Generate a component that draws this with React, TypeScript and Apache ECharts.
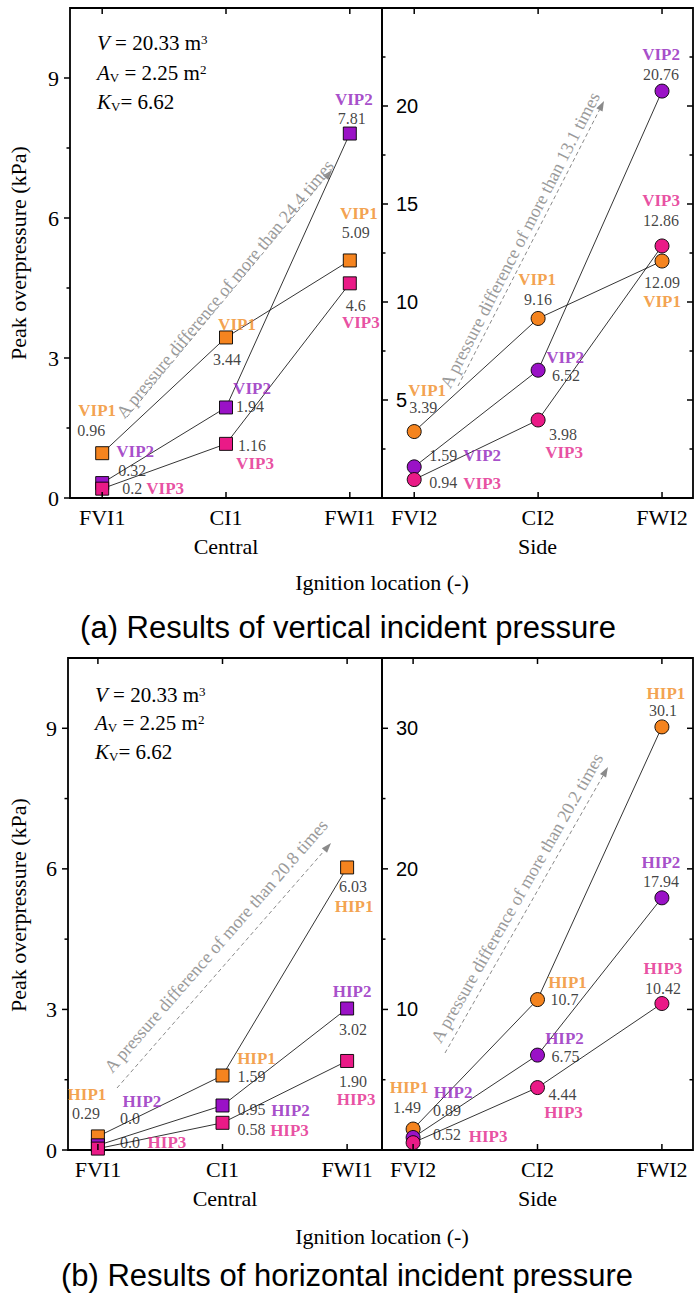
import React, { useEffect, useRef } from "react";
import * as echarts from "echarts";

const SERIF = "Liberation Serif";
const SANS = "Liberation Sans";

// ---------- data ----------
const centralCats = ["FVI1", "CI1", "FWI1"];
const sideCats = ["FVI2", "CI2", "FWI2"];
const vipNames = ["VIP1", "VIP2", "VIP3"];
const hipNames = ["HIP1", "HIP2", "HIP3"];

const vip1Central = [0.96, 3.44, 5.09];
const vip2Central = [0.32, 1.94, 7.81];
const vip3Central = [0.2, 1.16, 4.6];
const vipCentralText = [["0.96", "3.44", "5.09"], ["0.32", "1.94", "7.81"], ["0.2", "1.16", "4.6"]];

const vip1Side = [3.39, 9.16, 12.09];
const vip2Side = [1.59, 6.52, 20.76];
const vip3Side = [0.94, 3.98, 12.86];
const vipSideText = [["3.39", "9.16", "12.09"], ["1.59", "6.52", "20.76"], ["0.94", "3.98", "12.86"]];

const hip1Central = [0.29, 1.59, 6.03];
const hip2Central = [0.1, 0.95, 3.02];
const hip3Central = [0.03, 0.58, 1.9];
const hipCentralText = [["0.29", "1.59", "6.03"], ["0.0", "0.95", "3.02"], ["0.0", "0.58", "1.90"]];

const hip1Side = [1.49, 10.7, 30.1];
const hip2Side = [0.89, 6.75, 17.94];
const hip3Side = [0.52, 4.44, 10.42];
const hipSideText = [["1.49", "10.7", "30.1"], ["0.89", "6.75", "17.94"], ["0.52", "4.44", "10.42"]];

const catTicks = [0, 1, 2];
const centralMajor = [0, 3, 6, 9];
const centralMinor = [1.5, 4.5, 7.5];
const vipSideMajor = [5, 10, 15, 20];
const vipSideMinor = [2.5, 7.5, 12.5, 17.5, 22.5];
const hipSideMajor = [10, 20, 30];
const hipSideMinor = [5, 15, 25];

// ---------- styles / layout ----------
const fills = ["#F5841F", "#9A12C6", "#EA1A87"];
const textColors = ["#F08A22", "#9020BC", "#E2228A"];

// label offsets: [series][category] = [[nameDx, nameDy], [valueDx, valueDy]]
const offTL = [
  [[[-5, -43], [-11, -23]], [[11, -13], [1, 22]], [[9, -47], [6, -28]]],
  [[[33, -32], [30, -13]], [[26, -19], [24, -1]], [[4, -34], [2, -15]]],
  [[[63, 0], [30, 0]], [[29, 20], [26, 2]], [[11, 39], [6, 22]]],
];
const offTR = [
  [[[13, -41], [9, -24]], [[-1, -39], [0, -19]], [[0, 40], [0, 21]]],
  [[[68, -11], [29, -11]], [[27, -13], [28, 5]], [[-1, -37], [-1, -17]]],
  [[[68, 4], [29, 3]], [[26, 33], [25, 15]], [[-1, -45], [-1, -25]]],
];
const offBL = [
  [[[-11, -42], [-12, -23]], [[34, -17], [29, 1]], [[7, 39], [6, 19]]],
  [[[44, -44], [32, -27]], [[68, 5], [29, 4]], [[5, -17], [6, 21]]],
  [[[69, -6], [32, -6]], [[67, 8], [29, 7]], [[9, 39], [6, 21]]],
];
const offBR = [
  [[[-4, -42], [-6, -22]], [[30, -17], [27, 0]], [[4, -33], [1, -16]]],
  [[[40, -45], [34, -27]], [[27, -17], [28, 1]], [[-1, -35], [-1, -16]]],
  [[[75, -6], [34, -8]], [[26, 25], [25, 7]], [[1, -35], [1, -15]]],
];

type Panel = {
  rect: [number, number, number, number];
  xMin: number;
  xMax: number;
  yMax: number;
  major: number[];
  minor: number[];
  cats: string[];
  xName: string;
  values: number[][];
  texts: string[][];
  names: string[];
  offsets: number[][][][];
  symbol: string;
  symbolSize: number;
  side: boolean;
};

const panels: Panel[] = [
  {
    rect: [70, 8, 312, 490], xMin: -0.26, xMax: 2.26, yMax: 10.5,
    major: centralMajor, minor: centralMinor, cats: centralCats, xName: "Central",
    values: [vip1Central, vip2Central, vip3Central], texts: vipCentralText, names: vipNames,
    offsets: offTL, symbol: "rect", symbolSize: 13, side: false,
  },
  {
    rect: [382, 8, 311, 490], xMin: -0.26, xMax: 2.25, yMax: 25,
    major: vipSideMajor, minor: vipSideMinor, cats: sideCats, xName: "Side",
    values: [vip1Side, vip2Side, vip3Side], texts: vipSideText, names: vipNames,
    offsets: offTR, symbol: "circle", symbolSize: 14, side: true,
  },
  {
    rect: [68, 658, 314, 492], xMin: -0.24, xMax: 2.28, yMax: 10.5,
    major: centralMajor, minor: centralMinor, cats: centralCats, xName: "Central",
    values: [hip1Central, hip2Central, hip3Central], texts: hipCentralText, names: hipNames,
    offsets: offBL, symbol: "rect", symbolSize: 13, side: false,
  },
  {
    rect: [382, 658, 311, 492], xMin: -0.25, xMax: 2.25, yMax: 35,
    major: hipSideMajor, minor: hipSideMinor, cats: sideCats, xName: "Side",
    values: [hip1Side, hip2Side, hip3Side], texts: hipSideText, names: hipNames,
    offsets: offBR, symbol: "circle", symbolSize: 14, side: true,
  },
];

function txt(x: number, y: number, text: string, size: number, family: string, extra: any = {}, rotation = 0) {
  return {
    type: "text", silent: true, x, y, rotation, z: 10,
    style: { text, fontSize: size, fontFamily: family, fill: "#000", align: "center", verticalAlign: "middle", ...extra },
  };
}

function arrow(s: number[], e: number[], tc: number[], text: string) {
  const dx = e[0] - s[0];
  const dy = e[1] - s[1];
  const len = Math.hypot(dx, dy);
  const ux = dx / len, uy = dy / len;
  const nx = -uy, ny = ux;
  const bx = e[0] - ux * 10, by = e[1] - uy * 10;
  const ang = Math.atan2(-dy, dx);
  return [
    { type: "line", silent: true, shape: { x1: s[0], y1: s[1], x2: bx, y2: by }, style: { stroke: "#8a8a8a", lineWidth: 1, lineDash: [4, 3] } },
    { type: "polygon", silent: true, shape: { points: [[e[0], e[1]], [bx + nx * 3.5, by + ny * 3.5], [bx - nx * 3.5, by - ny * 3.5]] }, style: { fill: "#8a8a8a" } },
    txt(tc[0], tc[1], text, 18, SERIF, { fill: "#9a9a9a" }, ang),
  ];
}

const paramRich = {
  i: { fontStyle: "italic", fontFamily: SERIF, fontSize: 21, fill: "#000" },
  n: { fontFamily: SERIF, fontSize: 21, fill: "#000" },
  sup: { fontFamily: SERIF, fontSize: 13, fill: "#000", verticalAlign: "top" },
  sub: { fontFamily: SERIF, fontSize: 13, fill: "#000", verticalAlign: "bottom" },
};

function params(x: number, y: number[]) {
  const lines = [
    "{i|V}{n| = 20.33 m}{sup|3}",
    "{i|A}{sub|V}{n| = 2.25 m}{sup|2}",
    "{i|K}{sub|V}{n|= 6.62}",
  ];
  return lines.map((t, k) => ({
    type: "text", silent: true, x, y: y[k],
    style: { text: t, rich: paramRich, fontSize: 21, fontFamily: SERIF, fill: "#000", align: "left", verticalAlign: "middle" },
  }));
}

// tick kinds: 0 left major, 1 left minor, 2 right major, 3 right minor, 4 bottom, 5 top
function tickItems(p: Panel) {
  const out: number[][] = [];
  p.major.forEach((v) => out.push([0, v]));
  p.minor.forEach((v) => out.push([1, v]));
  if (p.side) {
    p.major.forEach((v) => out.push([2, v]));
    p.minor.forEach((v) => out.push([3, v]));
  }
  catTicks.forEach((v) => { out.push([4, v]); out.push([5, v]); });
  return out;
}

function buildOption() {
  const grid: any[] = [];
  const xAxis: any[] = [];
  const yAxis: any[] = [];
  const series: any[] = [];

  panels.forEach((p, gi) => {
    grid.push({ left: p.rect[0], top: p.rect[1], width: p.rect[2], height: p.rect[3], show: true, borderColor: "#000", borderWidth: 1.8, backgroundColor: "transparent" });
    const xb = xAxis.length;
    xAxis.push({
      gridIndex: gi, type: "value", position: "bottom", min: p.xMin, max: p.xMax,
      axisLine: { show: false, onZero: false }, splitLine: { show: false }, axisTick: { show: false },
      axisLabel: { customValues: catTicks.slice(), formatter: (v: number) => p.cats[Math.round(v)], fontFamily: SERIF, fontSize: 22, color: "#000", margin: 8 },
      name: p.xName, nameLocation: "middle", nameGap: 37,
      nameTextStyle: { fontFamily: SERIF, fontSize: 22, color: "#000" },
    });
    const yb = yAxis.length;
    yAxis.push({
      gridIndex: gi, type: "value", position: "left", min: 0, max: p.yMax,
      axisLine: { show: false, onZero: false }, splitLine: { show: false }, axisTick: { show: false },
      axisLabel: p.side
        ? { customValues: p.major.slice(), inside: true, fontFamily: SANS, fontSize: 20, color: "#000", margin: 14 }
        : { customValues: p.major.slice(), fontFamily: SERIF, fontSize: 22, color: "#000", margin: 11 },
    });

    // axis ticks, placed through the axes' own scales
    series.push({
      type: "custom", xAxisIndex: xb, yAxisIndex: yb, silent: true, z: 4, clip: false,
      data: tickItems(p),
      renderItem: (params: any, api: any) => {
        const kind = api.value(0);
        const v = api.value(1);
        const cs = params.coordSys;
        const left = cs.x, right = cs.x + cs.width, top = cs.y, bottom = cs.y + cs.height;
        let x1 = 0, y1 = 0, x2 = 0, y2 = 0;
        if (kind <= 3) {
          const py = api.coord([p.xMin, v])[1];
          const L = kind % 2 === 0 ? 6 : 3.5;
          y1 = y2 = py;
          if (kind <= 1) {
            if (p.side) { x1 = left; x2 = left + L; } else { x1 = left - L; x2 = left; }
          } else { x1 = right - L; x2 = right; }
        } else {
          const px = api.coord([v, 0])[0];
          x1 = x2 = px;
          if (kind === 4) { y1 = bottom; y2 = bottom - 6; } else { y1 = top; y2 = top + 6; }
        }
        return { type: "line", shape: { x1, y1, x2, y2 }, style: { stroke: "#000", lineWidth: 1.5 } };
      },
    });

    p.values.forEach((vals, si) => {
      series.push({
        type: "line", name: p.names[si], xAxisIndex: xb, yAxisIndex: yb, silent: true, z: 3 + si * 0.01,
        data: vals.map((v, i) => [i, v]),
        symbol: p.symbol, symbolSize: p.symbolSize, showSymbol: true,
        lineStyle: { color: "#000", width: 0.8 },
        itemStyle: { color: fills[si], borderColor: "#000", borderWidth: 0.9 },
      });
    });

    const items: any[] = [];
    p.values.forEach((vals, si) => {
      vals.forEach((v, i) => {
        const [no, vo] = p.offsets[si][i];
        items.push({
          value: [i, v],
          label: { show: true, position: "inside", formatter: p.names[si], offset: no, fontFamily: SERIF, fontSize: 17, fontWeight: "bold", color: textColors[si] },
        });
        items.push({
          value: [i, v],
          label: { show: true, position: "inside", formatter: p.texts[si][i], offset: vo, fontFamily: SERIF, fontSize: 16, color: "#111" },
        });
      });
    });
    series.push({
      type: "scatter", xAxisIndex: xb, yAxisIndex: yb, silent: true, z: 6,
      symbolSize: 0, data: items, label: { show: true, position: "inside" },
    });
  });

  const graphic: any[] = [
    ...params(97, [43, 73, 102]),
    ...params(95, [695, 723, 752]),
    ...arrow([127, 417], [332, 170], [225, 289], "A pressure difference of more than 24.4 times"),
    ...arrow([458, 386], [604, 101], [520, 240], "A pressure difference of more than 13.1 times"),
    ...arrow([117, 1088], [331, 843], [216, 946], "A pressure difference of more than 20.8 times"),
    ...arrow([445, 1053], [608, 767], [517, 898], "A pressure difference of more than 20.2 times"),
    txt(18, 253, "Peak overpressure (kPa)", 22, SERIF, {}, Math.PI / 2),
    txt(18, 905, "Peak overpressure (kPa)", 22, SERIF, {}, Math.PI / 2),
    txt(382, 582, "Ignition location (-)", 22, SERIF),
    txt(382, 1236, "Ignition location (-)", 22, SERIF),
    txt(348, 627, "(a) Results of vertical incident pressure", 31, SANS),
    txt(347, 1275, "(b) Results of horizontal incident pressure", 31, SANS),
  ];

  return { animation: false, backgroundColor: "#fff", grid, xAxis, yAxis, series, graphic };
}

export default function App() {
  const ref = useRef<HTMLDivElement>(null);
  useEffect(() => {
    if (!ref.current) return;
    const chart = echarts.init(ref.current, undefined, { renderer: "svg" });
    chart.setOption(buildOption() as any);
    return () => chart.dispose();
  }, []);
  return <div ref={ref} style={{ position: "absolute", left: 0, top: 0, width: 696, height: 1295 }} />;
}
